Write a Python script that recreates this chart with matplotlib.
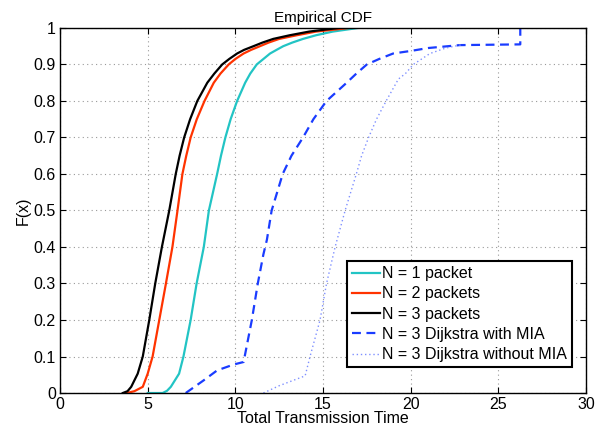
import numpy as np
import matplotlib.pyplot as plt

plt.rcParams['font.family'] = ['Liberation Sans', 'DejaVu Sans']

# values (x = transmission time, F = cdf)
n1_x = [5.0, 5.85, 6.1, 6.32, 6.79, 7.04, 7.45, 7.79, 8.2, 8.49, 8.96, 9.18, 9.43, 9.73, 10.1, 10.56, 10.85,
        11.22, 11.6, 11.98, 12.35, 12.73, 13.25, 13.86, 14.6, 15.55, 17.0]
n1_f = [0.0, 0.0, 0.006, 0.017, 0.053, 0.10, 0.20, 0.30, 0.40, 0.50, 0.60, 0.65, 0.70, 0.75, 0.80, 0.85, 0.875,
        0.90, 0.915, 0.93, 0.94, 0.95, 0.96, 0.97, 0.98, 0.99, 1.0]

n2_x = [3.8, 4.24, 4.72, 5.0, 5.28, 5.66, 6.04, 6.41, 6.7, 6.98, 7.2, 7.45, 7.8, 8.24, 8.77, 9.15, 9.62,
        10.0, 10.47, 10.9, 11.4, 11.9, 12.5, 13.5, 14.6, 16.5]
n2_f = [0.0, 0.005, 0.017, 0.053, 0.10, 0.20, 0.30, 0.40, 0.50, 0.60, 0.65, 0.70, 0.75, 0.80, 0.85, 0.875, 0.90,
        0.915, 0.93, 0.94, 0.95, 0.96, 0.97, 0.98, 0.99, 1.0]

n3_x = [3.58, 3.85, 4.06, 4.43, 4.72, 5.09, 5.43, 5.81, 6.23, 6.6, 6.82, 7.08, 7.42, 7.83, 8.4, 8.8, 9.25,
        9.65, 10.1, 10.5, 11.03, 11.55, 12.16, 13.1, 14.2, 15.9]
n3_f = [0.0, 0.005, 0.017, 0.053, 0.10, 0.20, 0.30, 0.40, 0.50, 0.60, 0.65, 0.70, 0.75, 0.80, 0.85, 0.875, 0.90,
        0.915, 0.93, 0.94, 0.95, 0.96, 0.97, 0.98, 0.99, 1.0]

mia_x = [7.17, 8.2, 8.96, 9.9, 10.47, 10.94, 11.28, 11.6, 11.8, 12.07, 12.7, 13.2, 13.86, 14.45, 15.2, 16.35,
         16.9, 17.5, 18.2, 19.0, 20.0, 21.0, 22.8, 26.25, 26.25]
mia_f = [0.0, 0.035, 0.062, 0.078, 0.085, 0.20, 0.30, 0.38, 0.42, 0.50, 0.60, 0.65, 0.70, 0.75, 0.80, 0.85,
         0.875, 0.90, 0.915, 0.93, 0.937, 0.945, 0.953, 0.955, 1.0]

nomia_x = [11.6, 12.5, 13.98, 14.26, 14.83, 15.2, 15.69, 16.26, 16.9, 17.2, 17.6, 18.05, 18.6, 19.3, 19.7,
           20.15, 21.1, 22.0, 23.0]
nomia_f = [0.0, 0.02, 0.047, 0.10, 0.20, 0.30, 0.40, 0.50, 0.60, 0.65, 0.70, 0.75, 0.80, 0.86, 0.875,
           0.90, 0.93, 0.945, 0.955]

fig = plt.figure(figsize=(6.1, 4.3), dpi=100)
ax = fig.add_axes([0.0984, 0.086, 0.8623, 0.849])

ax.plot(n1_x, n1_f, color='#22C4C4', lw=1.6, label='N = 1 packet')
ax.plot(n2_x, n2_f, color='#FF3300', lw=1.6, label='N = 2 packets')
ax.plot(n3_x, n3_f, color='black', lw=1.6, label='N = 3 packets')
ax.plot(mia_x, mia_f, color='#1A3CFF', lw=1.6, ls=(0, (4, 2.5)), label='N = 3 Dijkstra with MIA')
ax.plot(nomia_x, nomia_f, color='#7F90FF', lw=1.0, ls=(0, (1, 2)), label='N = 3 Dijkstra without MIA')

ax.set_xlim(0, 30)
ax.set_ylim(0, 1)
ax.set_xticks(np.arange(0, 31, 5))
ax.set_yticks(np.arange(0, 1.01, 0.1))
ax.set_yticklabels(['0', '0.1', '0.2', '0.3', '0.4', '0.5', '0.6', '0.7', '0.8', '0.9', '1'])
ax.tick_params(direction='in', top=True, right=True, labelsize=11.5, length=4, pad=3)
ax.grid(True, color='#999999', ls=(0, (1, 3)), lw=0.8)
for s in ax.spines.values():
    s.set_linewidth(1.0)

ax.set_title('Empirical CDF', fontsize=11, pad=4)
ax.set_xlabel('Total Transmission Time', fontsize=11.5, labelpad=-1)
ax.set_ylabel('F(x)', fontsize=11.5, labelpad=2)

leg = ax.legend(loc='lower right', bbox_to_anchor=(0.973, 0.071), fontsize=11.5,
                fancybox=False, framealpha=1, borderpad=0.3, labelspacing=0.33,
                handlelength=1.75, handletextpad=0.15, borderaxespad=0)
leg.get_frame().set_edgecolor('black')
leg.get_frame().set_linewidth(1.5)

fig.savefig('out.png', dpi=100)
